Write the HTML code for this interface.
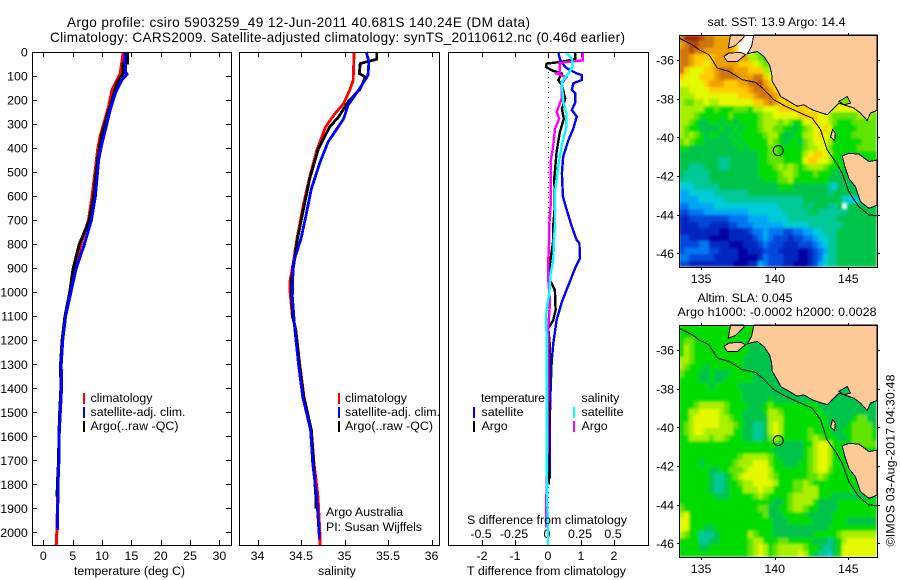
<!DOCTYPE html>
<html lang="en">
<head>
<meta charset="utf-8">
<title>Argo profile chart</title>
<style>
html,body{margin:0;padding:0;background:#fff;}
svg{display:block;}
text{font-family:"Liberation Sans",sans-serif;font-size:12.4px;fill:#000;}
.ttl{font-size:13.6px;}
</style>
</head>
<body>
<svg id="fig" xmlns="http://www.w3.org/2000/svg" width="900" height="580" viewBox="0 0 900 580">
<defs>
<filter id="soften" x="-2%" y="-2%" width="104%" height="104%"><feGaussianBlur stdDeviation="1.2"/></filter>
<clipPath id="clip-m1"><rect x="679" y="35" width="198" height="232"/></clipPath>
<clipPath id="clip-m2"><rect x="679" y="325" width="198" height="232"/></clipPath>
</defs>
<text class="ttl" x="67" y="27" textLength="463" lengthAdjust="spacing">Argo profile: csiro 5903259_49 12-Jun-2011 40.681S 140.24E (DM data)</text>
<text class="ttl" x="50" y="42" textLength="575" lengthAdjust="spacing">Climatology: CARS2009. Satellite-adjusted climatology: synTS_20110612.nc (0.46d earlier)</text>
<g id="p1"></g>
<g id="p2"></g>
<g id="p3"></g>
<g id="m1"></g>
<g id="m2"></g>

<text x="74" y="575" textLength="111" lengthAdjust="spacing">temperature (deg C)</text>
<text x="318" y="575">salinity</text>
<text x="467" y="575" textLength="159" lengthAdjust="spacing">T difference from climatology</text>
<text x="467" y="524" textLength="160" lengthAdjust="spacing">S difference from climatology</text>

<g>
<rect x="83" y="393" width="2" height="11" fill="#f00"/>
<rect x="83" y="407" width="2" height="11" fill="#00f"/>
<rect x="83" y="421" width="2" height="11" fill="#000"/>
<text x="90.5" y="402" textLength="62" lengthAdjust="spacing">climatology</text>
<text x="90.5" y="416" textLength="95" lengthAdjust="spacing">satellite-adj. clim.</text>
<text x="90.5" y="430" textLength="88" lengthAdjust="spacing">Argo(..raw -QC)</text>
</g>
<g>
<rect x="338" y="393" width="2" height="11" fill="#f00"/>
<rect x="338" y="407" width="2" height="11" fill="#00f"/>
<rect x="338" y="421" width="2" height="11" fill="#000"/>
<text x="345" y="402" textLength="62" lengthAdjust="spacing">climatology</text>
<text x="345" y="416" textLength="95" lengthAdjust="spacing">satellite-adj. clim.</text>
<text x="345" y="430" textLength="88" lengthAdjust="spacing">Argo(..raw -QC)</text>
</g>
<text x="326" y="516">Argo Australia</text>
<text x="326" y="531" textLength="96" lengthAdjust="spacing">PI: Susan Wijffels</text>

<g>
<text x="481" y="402" textLength="64" lengthAdjust="spacing">temperature</text>
<text x="581.5" y="402">salinity</text>
<rect x="473" y="407" width="2" height="11" fill="#00f"/>
<rect x="473" y="421" width="2" height="11" fill="#000"/>
<rect x="573" y="407" width="2" height="11" fill="#0ff"/>
<rect x="573" y="421" width="2" height="11" fill="#f0f"/>
<text x="481.5" y="416">satellite</text>
<text x="481.5" y="430">Argo</text>
<text x="581.5" y="416">satellite</text>
<text x="581.5" y="430">Argo</text>
</g>

<text x="707.5" y="26" textLength="138" lengthAdjust="spacing">sat. SST: 13.9  Argo: 14.4</text>
<text x="697.5" y="302" textLength="95" lengthAdjust="spacing">Altim. SLA: 0.045</text>
<text x="677.5" y="316" textLength="199" lengthAdjust="spacing">Argo h1000: -0.0002 h2000: 0.0028</text>
<text transform="translate(894.5,546.5) rotate(-90)" textLength="172" lengthAdjust="spacing">©IMOS 03-Aug-2017 04:30:48</text>
</svg>

<script>
/* ---------- profile data (depth in dbar) ---------- */
const depthTicks = [0,100,200,300,400,500,600,700,800,900,1000,1100,1200,1300,1400,1500,1600,1700,1800,1900,2000];
const tempTicks = [0,5,10,15,20,25,30];
const salTicks = [34,34.5,35,35.5,36];
const salTickLabels = ['34','34.5','35','35.5','36'];
const tDiffTicks = [-2,-1,0,1,2];
const tDiffTickLabels = ['-2','-1','0','1','2'];
const sDiffTicks = [-0.5,-0.25,0,0.25,0.5];
const sDiffTickLabels = ['-0.5','-0.25','0','0.25','0.5'];

const tempClimDepth = [0,90,130,158,228,290,350,408,491,603,700,800,900,1000,1100,1200,1300,1400,1500,1600,1700,1800,1900,2000,2054];
const tempClim = [13.63,13.1,12.27,11.7,11.1,10.4,9.7,9.25,8.86,8.3,7.7,6.4,5.3,4.6,3.75,3.25,3.0,3.05,2.85,2.65,2.6,2.45,2.4,2.3,2.2];

const tempSatDepth = [0,85,92,116,172,241,325,380,450,603,700,800,900,1000,1100,1200,1300,1400,1500,1600,1700,1800,1900,1990];
const tempSat = [13.9,14.0,14.26,13.4,12.27,11.4,10.56,10.0,9.42,8.86,8.2,7.0,5.6,4.7,3.8,3.3,3.05,3.1,2.9,2.7,2.65,2.5,2.45,2.4];

const tempArgoDepth = [0,46,50,90,130,200,268,340,422,533,603,700,800,900,1000,1100,1200,1300,1400,1500,1600,1700,1800,1850];
const tempArgo = [14.36,14.36,13.57,13.57,12.55,11.7,10.85,10.0,9.42,8.86,8.57,7.84,6.13,5.1,4.5,3.7,3.2,2.95,3.0,2.8,2.65,2.6,2.4,2.35];

const salClimDepth = [0,117,159,215,257,313,410,520,631,783,880,950,1000,1100,1157,1296,1435,1574,1712,1851,2018,2054];
const salClim = [35.11,35.1,35.06,34.99,34.89,34.78,34.68,34.6,34.53,34.45,34.41,34.375,34.375,34.40,34.44,34.485,34.535,34.62,34.65,34.695,34.72,34.72];

const salArgoDepth = [0,30,48,90,104,153,208,271,312,403,528,652,777,880,950,1000,1100,1157,1296,1435,1574,1712,1851,1900];
const salArgo = [35.37,35.37,35.18,35.17,35.24,35.18,35.04,34.93,34.83,34.7,34.6,34.53,34.46,34.42,34.39,34.39,34.405,34.44,34.48,34.53,34.62,34.645,34.67,34.67];

const salSatDepth = [0,41,97,160,222,278,375,458,569,694,777,880,1018,1157,1296,1435,1574,1712,1851,2018,2030];
const salSat = [35.25,35.28,35.27,35.16,35.04,34.99,34.81,34.72,34.62,34.55,34.5,34.41,34.40,34.43,34.47,34.52,34.61,34.635,34.68,34.71,34.71];

const tSatDiffDepth = [0,40,68,89,96,117,130,158,172,213,241,269,318,366,435,505,602,658,727,783,796,859,900,970,1040,1116,1212,1295,1407,1500,1700,1775];
const tSatDiff = [0.31,0.38,0.57,0.87,1.02,1.02,0.77,0.72,0.82,0.82,0.72,0.87,0.77,0.62,0.46,0.42,0.45,0.57,0.72,0.87,0.95,0.97,0.82,0.62,0.42,0.26,0.16,0.11,0.08,0.06,0.05,0.05];

const tArgoDiffDepth = [0,30,42,48,62,76,90,117,138,194,236,278,333,416,527,638,721,783,880,950,991,1074,1116,1150,1228,1295,1436,1600,1800];
const tArgoDiff = [0.82,0.82,0.36,-0.04,-0.06,0.11,0.42,0.31,0.42,0.52,0.42,0.48,0.36,0.26,0.19,0.21,0.16,0.16,0.06,0.06,0.21,0.23,0.16,0.01,0.06,0.06,0.04,0.03,0.02];

const sArgoDiffDepth = [0,35,45,83,90,104,132,194,250,278,319,389,458,638,721,777,866,950,1040,1150,1324,1650,1910,1980];
const sArgoDiff = [0.263,0.263,0.09,0.09,0.066,0.14,0.104,0.104,0.066,0.085,0.053,0.04,0.02,0.02,0.01,0.01,0.002,0.002,0.015,0.002,0.002,-0.002,-0.015,-0.015];

const sSatDiffDepth = [0,28,62,90,125,208,257,319,389,472,583,721,783,866,922,1005,1066,1128,1200,1400,1700,1900,1990,2054];
const sSatDiff = [0.136,0.18,0.187,0.154,0.104,0.116,0.14,0.136,0.104,0.078,0.053,0.053,0.045,0.04,0.02,0.01,-0.01,-0.015,-0.008,-0.01,-0.01,-0.004,0,0];

/* ---------- map data ---------- */
const lonTicks = [135,140,145];
const latTicks = [36,38,40,42,44,46];
const argoLon = 140.24;
const argoLat = 40.68;
const mainland = [[138.59,34.7],[138.43,35.29],[138.14,35.67],[138.82,35.55],[139.27,35.81],[139.65,36.24],[139.79,36.67],[139.84,37.1],[140.17,37.53],[140.4,37.88],[140.97,38.13],[141.53,38.39],[141.98,38.31],[142.55,38.57],[143.23,38.74],[143.57,38.82],[144.02,38.48],[144.36,38.22],[144.7,38.31],[145.38,38.48],[145.83,38.74],[146.28,39.12],[146.51,38.74],[146.95,38.6],[146.95,34.7]];
const yorke = [[137.0,34.7],[136.85,35.38],[137.3,35.26],[137.91,34.81],[137.91,34.7]];
const kangarooIsland = [[136.55,35.81],[136.89,35.63],[137.69,35.6],[138.02,35.72],[137.46,36.07],[136.78,36.07]];
const tasmania = [[144.59,40.96],[145.04,40.82],[145.72,40.86],[146.4,41.25],[146.95,41.17],[146.95,43.5],[146.4,43.67],[145.83,43.32],[145.49,42.55],[145.04,42.12],[144.77,41.51]];
const kingIsland = [[143.94,39.59],[144.12,39.79],[144.07,40.17],[143.8,39.97]];
const portPhillip = [[144.36,38.13],[144.93,37.88],[145.15,38.22],[144.7,38.31]];
const isobath = [[133.5,34.86],[134.4,35.2],[134.86,35.46],[135.54,35.72],[136.1,36.41],[136.89,36.58],[137.8,37.01],[138.7,37.15],[139.16,37.44],[139.95,38.05],[140.74,38.39],[141.76,38.74],[142.55,39.0],[143.12,39.6],[143.57,40.65],[144.13,41.25],[144.59,41.86],[145.04,42.8],[145.72,43.58],[146.4,44.0],[146.95,44.05]];

const sstRows = [
"egggfeedddddd.",
"deffeeeddddc...",
"eefeeddddddc...9",
"eedccccdddddddaa9899",
"eedccbcdddddcccba998",
"ecbbbccdeeedddcccaa9",
"cbbbcccdeeeedddeecba",
"bbbbbcdddcccddeefdcb",
"aabbbbccccccccdeeedcb",
"aaabbbbbbbbbcccdeeedcb",
"a99aabaabbbbbbbccdedcccb",
"aaaaa8898889998aabbbccccccbb",
"aaa98888889888889aabbbbbccccbb" + "a99999aaa9",
"aa98778878878888" + "9aaa" + "9a988" + "bbcbb" + "a98" + "8899999",
"a988777787787888" + "9aa9" + "98878" + "9abbc" + "b88" + "8889999",
"a9a9878877878888" + "89aa" + "87788" + "aabcb" + "a88" + "8899999",
"9a98877777787888" + "88a9" + "87887" + "9abbb" + "a88" + "8888999",
"8877777777778788" + "8899" + "88888" + "9aabb" + "988" + "8889999",
"7777777777777777" + "8899" + "88888" + "abccb" + "a88" + "888",
"7777777766777777" + "8899" + "98888" + "bccbb" + "a88",
"7766677766777777" + "8889" + "a9a98" + "9aaa9" + "888",
"7666667777777777" + "8888" + "9aa98" + "88988" + "877",
"6666667777777777" + "7888" + "99a88" + "88888" + "777",
"5556666677777777" + "7777" + "88877" + "77777" + "6577",
"4455555666666677" + "7777" + "77777" + "77777" + "6777",
"4444555556666666" + "6666" + "66666" + "77777" + "7775",
"3344444555555555" + "5555" + "66666" + "76777" + "667" + "." + "777777",
"2233344444444455" + "5555" + "56666" + "67766" + "666" + "6" + "777777",
"1122222222333344" + "4455" + "55666" + "66666" + "667" + "7777777",
"1111221111223334" + "4444" + "45555" + "56666" + "666" + "7777777",
"1111111100111123" + "3433" + "32233" + "44556" + "667" + "7777777",
"2211110000111112" + "3432" + "22122" + "33455" + "667" + "7777777",
"2222331111000111" + "2322" + "21112" + "22345" + "667" + "7777777",
"2333332211110011" + "1222" + "11110" + "01234" + "667" + "7777777",
"3322222111110000" + "1322" + "21110" + "01235" + "667" + "7777777",
"2211111111100011" + "4322" + "21100" + "01245" + "667" + "7777777"
];

const slaRows = [
"88888888888888888888",
"88888888888888888888",
"899888888888888877",
"8a9888888888887777",
"8a9888888888887777",
"aa9888888888877777",
"a98887888888877777",
"988877877788888777",
"88887787788888877777",
"88888878888877777777",
"888888888888877777777777",
"888888888888877777877777",
"8889aaaaa9888" + "87778" + "98888" + "88888" + "77777" + "7777777",
"88aabbbba9888" + "77778" + "aa988" + "88888" + "87777" + "7777777",
"88abbbbbaa988" + "77777" + "aaa88" + "88888" + "88777" + "7789977",
"89abbbbbaaa98" + "77667" + "aba88" + "88888" + "88777" + "7899997",
"89abbaaaaaa88" + "77667" + "aba88" + "88898" + "88877" + "8899998",
"88aaaa9aa9888" + "77667" + "9a988" + "8889a" + "98887" + "7899998",
"8888888888888888" + "8888" + "77777" + "88abb" + "a88" + "889",
"8888888888888888" + "8887" + "77777" + "89abb" + "a88",
"8888888888889aaa" + "aa98" + "77777" + "89abb" + "a88",
"888878888889aaab" + "bb98" + "87778" + "89abb" + "a88",
"8888887788999abb" + "bba8" + "88888" + "89abb" + "988",
"888888766789abbb" + "bba9" + "88888" + "899a9" + "888",
"8888887667889aab" + "bbba" + "88899" + "a9888" + "888",
"8888887667888aaa" + "baa8" + "88899" + "aaa88" + "888",
"8888888777888889" + "a988" + "889aa" + "aaa88" + "877",
"8888888888888888" + "8887" + "789aa" + "aa877" + "778",
"9888888888888888" + "9977" + "889aa" + "98877" + "778",
"ab88888888888888" + "8977" + "78888" + "87777" + "788" + "88",
"bb88888888888888" + "8887" + "77888" + "88777" + "788" + "87",
"bb88877888888888" + "8887" + "77777" + "77777" + "888" + "888",
"a9886667888888a9" + "8887" + "77777" + "77888" + "889" + "aaaa",
"888866778888889a" + "a888" + "99888" + "88777" + "678" + "abbb",
"888877888888889a" + "ba89" + "aaaaa" + "98876" + "678" + "bbbb",
"888888888888889a" + "ba89" + "aaaab" + "a8766" + "578" + "bbbb"
];

/* ---------- drawing helpers ---------- */
const NS = 'http://www.w3.org/2000/svg';
const colourLevels = {'0':'#0000a0','1':'#0028c0','2':'#0048dc','3':'#0078f0','4':'#00a8f4','5':'#00ccd8','6':'#00c896','7':'#00c448','8':'#00dc00','9':'#60e400','a':'#a8f000','b':'#e4f800','c':'#ffcc00','d':'#eea000','e':'#d07808','f':'#b84a00','g':'#9c2800'};
const landColour = '#fdc997';

function make(parent, tag, attrs, name) {
  const el = document.createElementNS(NS, tag);
  for (const k in attrs) el.setAttribute(k, attrs[k]);
  
  
  parent.appendChild(el);
  return el;
}
function label(parent, str, x, y, anchor, name) {
  const el = make(parent, 'text', {x: x, y: y, 'text-anchor': anchor}, name);
  el.textContent = str;
  return el;
}
function linePath(xs, ys) {
  return xs.map((v, i) => (i ? 'L' : 'M') + v.toFixed(1) + ' ' + ys[i].toFixed(1)).join(' ');
}

/* ---------- profile panels ---------- */
const plotTop = 52, plotBottom = 545;
const yDepth = d => plotTop + d * 0.2402;

function panel(id, left, right, xTicks, xScale, xLabels, sideTicks, tickName) {
  const g = document.getElementById(id);
  make(g, 'rect', {x: left + 0.5, y: plotTop + 0.5, width: right - left, height: plotBottom - plotTop, fill: '#fff', stroke: 'none'}, 'plot-background');
  const frame = () => make(g, 'rect', {x: left + 0.5, y: plotTop + 0.5, width: right - left, height: plotBottom - plotTop, fill: 'none', stroke: '#000', 'stroke-width': 1.2, 'shape-rendering': 'crispEdges'}, 'plot-frame');
  const tk = (x1, y1, x2, y2) => make(g, 'line', {x1: x1, y1: y1, x2: x2, y2: y2, stroke: '#000', 'stroke-width': 1, 'shape-rendering': 'crispEdges'}, tickName + '-tick');
  xTicks.forEach((t, i) => {
    const x = Math.round(xScale(t)) + 0.5;
    tk(x, plotTop, x, plotTop + 5);
    tk(x, plotBottom, x, plotBottom - 5);
    label(g, xLabels[i], xScale(t), 560, 'middle', tickName + '-tick-label');
  });
  if (sideTicks) {
    depthTicks.forEach(d => {
      const y = Math.round(yDepth(d)) + 0.5;
      tk(left, y, left + 5, y);
      tk(right, y, right - 5, y);
      label(g, String(d), 27.8, yDepth(d) + 4.5, 'end', 'depth-tick-label');
    });
  }
  return {g: g, frame: frame};
}
function curve(g, xScale, depths, values, colour, width, name) {
  const el = make(g, 'path', {
    d: linePath(values.map(xScale), depths.map(yDepth)),
    fill: 'none', stroke: colour, 'stroke-width': width, 'shape-rendering': 'crispEdges'
  }, name);
  return el;
}

const xTemp = t => 43.3 + t * 5.87;
const p1 = panel('p1', 32, 231, tempTicks, xTemp, tempTicks.map(String), true, 'temperature');
curve(p1.g, xTemp, tempClimDepth, tempClim, '#f00', 3, 'temperature-climatology-line');
curve(p1.g, xTemp, tempArgoDepth, tempArgo, '#000', 3, 'temperature-argo-line');
curve(p1.g, xTemp, tempSatDepth, tempSat, '#00f', 3, 'temperature-satellite-line');
p1.frame();

const xSal = s => 257.5 + (s - 34) * 87;
const p2 = panel('p2', 239, 439, salTicks, xSal, salTickLabels, false, 'salinity');
curve(p2.g, xSal, salClimDepth, salClim, '#f00', 2.8, 'salinity-climatology-line');
curve(p2.g, xSal, salArgoDepth, salArgo, '#000', 2.8, 'salinity-argo-line');
curve(p2.g, xSal, salSatDepth, salSat, '#00f', 2.8, 'salinity-satellite-line');
p2.frame();

const xTDiff = t => 548 + t * 33;
const xSDiff = s => 548 + s * 132;
const p3 = panel('p3', 448, 648, tDiffTicks, xTDiff, tDiffTickLabels, false, 't-difference');
sDiffTicks.forEach((s, i) => {
  label(p3.g, sDiffTickLabels[i], xSDiff(s) - 1, 538, 'middle', 's-difference-tick-label');
});
make(p3.g, 'line', {x1: 548.5, y1: plotTop, x2: 548.5, y2: plotBottom, stroke: '#000', 'stroke-width': 1, 'stroke-dasharray': '1 4', 'shape-rendering': 'crispEdges'}, 'zero-reference-line');
curve(p3.g, xTDiff, tSatDiffDepth, tSatDiff, '#00f', 2.4, 't-satellite-difference-line');
curve(p3.g, xTDiff, tArgoDiffDepth, tArgoDiff, '#000', 2.4, 't-argo-difference-line');
curve(p3.g, xSDiff, sArgoDiffDepth, sArgoDiff, '#f0f', 2.4, 's-argo-difference-line');
curve(p3.g, xSDiff, sSatDiffDepth, sSatDiff, '#0ff', 2.4, 's-satellite-difference-line');
p3.frame();

/* ---------- maps ---------- */
const mapLeft = 679, mapRight = 877, lonW = 133.5, lonE = 146.95, latN = 34.7, latS = 46.7;
const gridCols = 40, gridRowCount = 36;

function drawMap(id, top, bottom, rows, bayColour) {
  const g = document.getElementById(id);
  const xLon = lon => mapLeft + (lon - lonW) * (mapRight - mapLeft) / (lonE - lonW);
  const yLat = lat => top + (lat - latN) * (bottom - top) / (latS - latN);
  const pts = arr => arr.map(p => xLon(p[0]).toFixed(1) + ',' + yLat(p[1]).toFixed(1)).join(' ');

  const clip = make(g, 'g', {'clip-path': 'url(#clip-' + id + ')'}, 'map-heatmap-clip');
  const cells = make(clip, 'g', {filter: 'url(#soften)'}, 'map-heatmap');
  rows.forEach((rowStr, r) => {
    const y0 = Math.round(top + r * (bottom - top) / gridRowCount);
    const y1 = Math.round(top + (r + 1) * (bottom - top) / gridRowCount);
    for (let c = 0; c < gridCols; c++) {
      const code = c < rowStr.length ? rowStr[c] : rowStr[rowStr.length - 1];
      if (code === '.') continue;
      const x0 = Math.round(mapLeft + c * (mapRight - mapLeft) / gridCols);
      const x1 = Math.round(mapLeft + (c + 1) * (mapRight - mapLeft) / gridCols);
      const cell = document.createElementNS(NS, 'rect');
      cell.setAttribute('x', x0);
      cell.setAttribute('y', y0);
      cell.setAttribute('width', x1 - x0);
      cell.setAttribute('height', y1 - y0);
      cell.setAttribute('fill', colourLevels[code]);
      
      
      cells.appendChild(cell);
    }
  });

  const land = (arr, name) => make(g, 'polygon', {points: pts(arr), fill: landColour, stroke: '#000', 'stroke-width': 1, 'shape-rendering': 'crispEdges'}, name);
  land(mainland, 'mainland-australia');
  make(g, 'polygon', {points: pts(portPhillip), fill: bayColour, stroke: '#000', 'stroke-width': 1, 'shape-rendering': 'crispEdges'}, 'port-phillip-bay');
  land(yorke, 'yorke-peninsula');
  land(kangarooIsland, 'kangaroo-island');
  land(tasmania, 'tasmania');
  land(kingIsland, 'king-island');
  make(g, 'polyline', {points: pts(isobath), fill: 'none', stroke: '#000', 'stroke-width': 1, 'shape-rendering': 'crispEdges'}, 'isobath-line');
  make(g, 'circle', {cx: xLon(argoLon), cy: yLat(argoLat), r: 5, fill: 'none', stroke: '#000', 'stroke-width': 1}, 'argo-location-marker');
  make(g, 'rect', {x: mapLeft + 0.5, y: top + 0.5, width: mapRight - mapLeft, height: bottom - top, fill: 'none', stroke: '#000', 'stroke-width': 1, 'shape-rendering': 'crispEdges'}, 'map-frame');

  lonTicks.forEach(lon => {
    const x = Math.round(xLon(lon)) + 0.5;
    make(g, 'line', {x1: x, y1: top - 2, x2: x, y2: top, stroke: '#000', 'shape-rendering': 'crispEdges'}, 'lon-tick');
    make(g, 'line', {x1: x, y1: bottom + 1, x2: x, y2: bottom + 3, stroke: '#000', 'shape-rendering': 'crispEdges'}, 'lon-tick');
    label(g, String(lon), xLon(lon), bottom + 16, 'middle', 'lon-tick-label');
  });
  latTicks.forEach(lat => {
    const y = Math.round(yLat(lat)) + 0.5;
    make(g, 'line', {x1: mapLeft - 2, y1: y, x2: mapLeft, y2: y, stroke: '#000', 'shape-rendering': 'crispEdges'}, 'lat-tick');
    make(g, 'line', {x1: mapRight + 1, y1: y, x2: mapRight + 3, y2: y, stroke: '#000', 'shape-rendering': 'crispEdges'}, 'lat-tick');
    label(g, '-' + lat, 674, yLat(lat) + 4.5, 'end', 'lat-tick-label');
  });
}
drawMap('m1', 35, 267, sstRows, '#80e400');
drawMap('m2', 325, 557, slaRows, '#00c850');
</script>
</body>
</html>
